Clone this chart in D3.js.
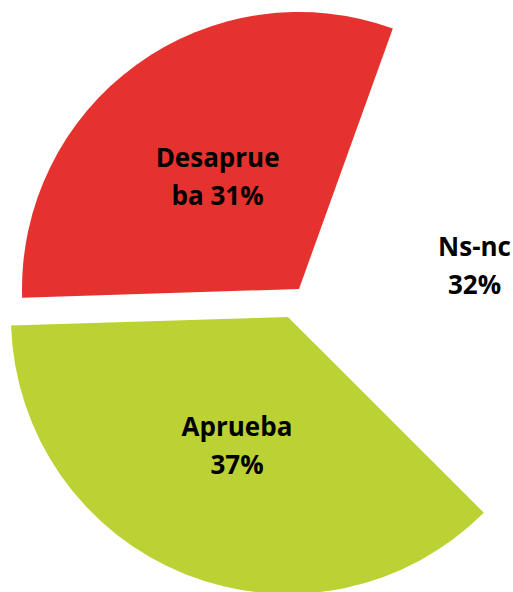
<!DOCTYPE html>
<html>
<head>
<meta charset="utf-8">
<script src="https://cdn.jsdelivr.net/npm/d3@7/dist/d3.min.js"></script>
<style>
  html, body { margin: 0; padding: 0; background: #ffffff; }
  svg { display: block; }
</style>
</head>
<body>
<svg id="chart" width="513" height="592"></svg>
<script>
// ---- data ----
const categories = ["Aprueba", "Desaprueba", "Ns-nc"];
const values = [37, 31, 32];
const labelLines = [["Aprueba", "37%"], ["Desaprue", "ba 31%"], ["Ns-nc", "32%"]];
const colors = ["#BCD234", "#E5322E", "#FFFFFF"];

// ---- layout ----
const W = 513, H = 592;
const cx = 299, cy = 289, R = 277;
const explode = { "Aprueba": 30, "Desaprueba": 0, "Ns-nc": 30 };
const fontSize = 26, lineGap = 38, capH = 18.5;

const svg = d3.select("#chart");
const g = svg.append("g").attr("transform", `translate(${cx},${cy})`);

const pie = d3.pie().sort(null).value(d => d.value)
  .startAngle(135 * Math.PI / 180)
  .endAngle(495 * Math.PI / 180);
const data = categories.map((c, i) => ({ cat: c, value: values[i], lines: labelLines[i], color: colors[i] }));
const arcs = pie(data);
const arc = d3.arc().innerRadius(0).outerRadius(R);
const labelArc = d3.arc().innerRadius(R * 0.5).outerRadius(R * 0.5);

function offset(a) {
  const mid = (a.startAngle + a.endAngle) / 2;
  const e = explode[a.data.cat] || 0;
  return [Math.sin(mid) * e, -Math.cos(mid) * e];
}

const slices = g.selectAll("g.slice").data(arcs).enter().append("g")
  .attr("class", "slice")
  .attr("transform", d => { const o = offset(d); return `translate(${o[0]},${o[1]})`; });

slices.append("path")
  .attr("d", arc)
  .attr("fill", d => d.data.color)
  .attr("stroke", "none");

const labels = slices.append("text")
  .attr("font-family", "'Open Sans', Lato, sans-serif")
  .attr("font-weight", "bold")
  .attr("font-size", fontSize)
  .attr("fill", "#000")
  .attr("text-anchor", "middle");

labels.each(function(d) {
  let [lx, ly] = labelArc.centroid(d);
  const t = d3.select(this);
  d.data.lines.forEach((ln, i) => {
    t.append("tspan").attr("x", 0).attr("y", i * lineGap).text(ln);
  });
  // labels close to the chart edge are pushed against it (like the spreadsheet does)
  const bb = this.getBBox();
  const o = offset(d);
  const absRight = cx + o[0] + lx + bb.width / 2;
  if (absRight > W - 40) {
    lx -= absRight - (W - 2);
    ly += 13;
  }
  const top = ly - (lineGap + capH) / 2 + capH;
  t.selectAll("tspan").attr("x", lx).attr("y", (p, i) => top + i * lineGap);
});
</script>
</body>
</html>
